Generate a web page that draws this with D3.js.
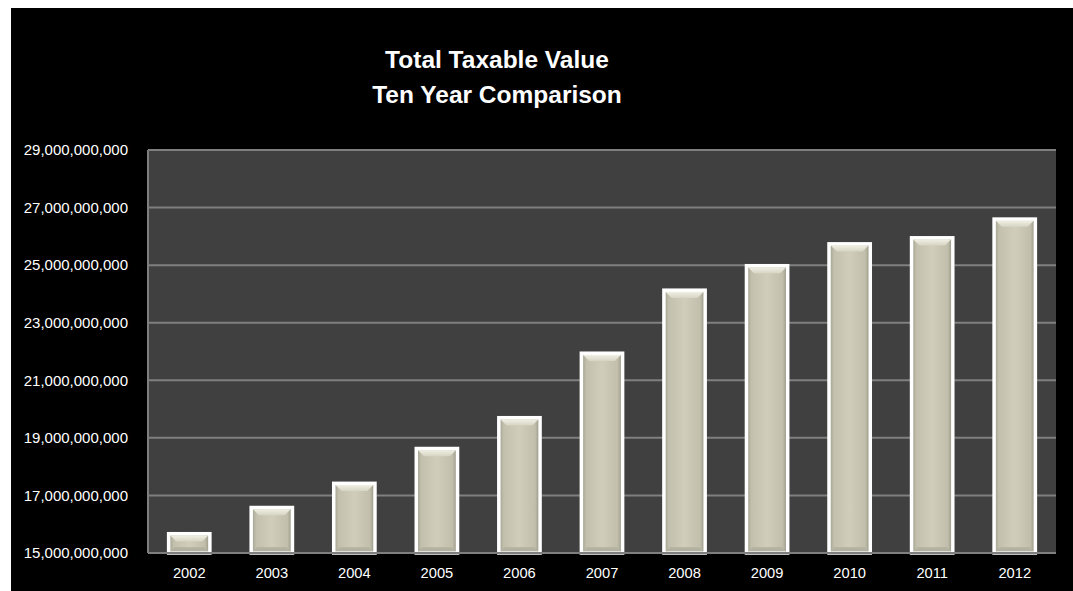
<!DOCTYPE html>
<html>
<head>
<meta charset="utf-8">
<script src="https://cdnjs.cloudflare.com/ajax/libs/d3/7.8.5/d3.min.js"></script>
<style>
  html, body { margin: 0; padding: 0; background: #fff; }
  svg { display: block; }
  text { font-family: "Liberation Sans", Arial, sans-serif; fill: #fff; }
</style>
</head>
<body>
<svg id="chart" width="1073" height="591"></svg>
<script>
"use strict";

// Data ///////////////////////////////////////////////////
var years = ["2002", "2003", "2004", "2005", "2006", "2007",
             "2008", "2009", "2010", "2011", "2012"];
var taxableValue = [15.67e9, 16.58e9, 17.42e9, 18.63e9, 19.70e9, 21.94e9,
                    24.13e9, 24.98e9, 25.74e9, 25.95e9, 26.60e9];
var yTicks = [15e9, 17e9, 19e9, 21e9, 23e9, 25e9, 27e9, 29e9];
var titleLines = ["Total Taxable Value", "Ten Year Comparison"];

var app = {

  // Frame and title ///////////////////////////////////////
  frame: function(svg) {
  //////////////////////////////////////////////////////////
    svg.append("rect")
        .attr("x", 11).attr("y", 8)
        .attr("width", 1062).attr("height", 583)
        .attr("fill", "#000");

    svg.selectAll("text.title")
        .data(titleLines)
        .enter().append("text")
        .attr("class", "title")
        .attr("x", 497)
        .attr("y", function(d, i) { return 68 + i * 35; })
        .attr("text-anchor", "middle")
        .attr("font-weight", "bold")
        .attr("font-size", "24.5px")
        .text(function(d) { return d; });
  },

  // Bar chart /////////////////////////////////////////////
  bars: function(svg) {
  //////////////////////////////////////////////////////////
    var left = 148, right = 1056, top = 150, bottom = 553;

    var x = d3.scaleBand()
        .domain(years)
        .range([left, right])
        .paddingInner(0.5)
        .paddingOuter(0.25);

    var y = d3.scaleLinear()
        .domain([15e9, 29e9])
        .range([bottom, top]);

    // gradients
    var defs = svg.append("defs");
    var side = defs.append("linearGradient")
        .attr("id", "barSide")
        .attr("x1", 0).attr("x2", 1).attr("y1", 0).attr("y2", 0);
    side.append("stop").attr("offset", "0%").attr("stop-color", "#9b998a");
    side.append("stop").attr("offset", "12%").attr("stop-color", "#c3c1ad");
    side.append("stop").attr("offset", "50%").attr("stop-color", "#d0cebb");
    side.append("stop").attr("offset", "88%").attr("stop-color", "#c1bfab");
    side.append("stop").attr("offset", "100%").attr("stop-color", "#8f8d7f");

    var topG = defs.append("linearGradient")
        .attr("id", "barTop")
        .attr("x1", 0).attr("x2", 0).attr("y1", 0).attr("y2", 1);
    topG.append("stop").attr("offset", "0%").attr("stop-color", "#f0efe4");
    topG.append("stop").attr("offset", "100%").attr("stop-color", "#d6d4c2");

    // plot area
    svg.append("rect")
        .attr("x", left).attr("y", top)
        .attr("width", right - left).attr("height", bottom - top)
        .attr("fill", "#404040");

    svg.append("line")
        .attr("x1", left).attr("x2", left)
        .attr("y1", top).attr("y2", bottom)
        .attr("stroke", "#7f7f7f").attr("stroke-width", 2);

    // gridlines
    svg.selectAll("line.grid")
        .data(yTicks)
        .enter().append("line")
        .attr("class", "grid")
        .attr("x1", left).attr("x2", right)
        .attr("y1", function(d) { return y(d); })
        .attr("y2", function(d) { return y(d); })
        .attr("stroke", "#7f7f7f")
        .attr("stroke-width", 2);

    // y axis labels
    var yAxis = d3.axisLeft(y)
        .tickValues(yTicks)
        .tickSize(0)
        .tickPadding(20)
        .tickFormat(d3.format(","));

    var gy = svg.append("g")
        .attr("transform", "translate(" + left + ",0)")
        .call(yAxis);
    gy.select(".domain").remove();
    gy.selectAll("text")
        .attr("font-family", "Liberation Sans, Arial, sans-serif")
        .attr("font-size", "15px")
        .attr("fill", "#fff");

    // x axis labels
    var xAxis = d3.axisBottom(x).tickSize(0).tickPadding(15);
    var gx = svg.append("g")
        .attr("transform", "translate(0," + bottom + ")")
        .call(xAxis);
    gx.select(".domain").remove();
    gx.selectAll("text")
        .attr("font-family", "Liberation Sans, Arial, sans-serif")
        .attr("font-size", "14.7px")
        .attr("fill", "#fff");

    var data = years.map(function(d, i) { return { year: d, value: taxableValue[i] }; });
    var bw = x.bandwidth();

    var g = svg.selectAll("g.bar")
        .data(data)
        .enter().append("g")
        .attr("class", "bar");

    // soft shadow on right
    g.append("rect")
        .attr("x", function(d) { return x(d.year) + 1.5; })
        .attr("y", function(d) { return y(d.value) - 1; })
        .attr("width", bw)
        .attr("height", function(d) { return bottom - y(d.value) + 1; })
        .attr("fill", "#000")
        .attr("opacity", 0.7);

    // white outline + body
    g.append("rect")
        .attr("x", function(d) { return x(d.year); })
        .attr("y", function(d) { return y(d.value); })
        .attr("width", bw)
        .attr("height", function(d) { return bottom - y(d.value); })
        .attr("fill", "url(#barSide)")
        .attr("stroke", "#fff")
        .attr("stroke-width", 3.5);

    // top bevel
    g.append("polygon")
        .attr("points", function(d) {
          var x0 = x(d.year) + 1.75, x1 = x(d.year) + bw - 1.75;
          var y0 = y(d.value) + 1.75, h = 6;
          return [[x0, y0], [x1, y0], [x1 - h, y0 + h], [x0 + h, y0 + h]]
              .map(function(p) { return p.join(","); }).join(" ");
        })
        .attr("fill", "url(#barTop)");

    // bottom bevel
    g.append("polygon")
        .attr("points", function(d) {
          var x0 = x(d.year) + 1.75, x1 = x(d.year) + bw - 1.75;
          var y0 = bottom - 1.75, h = 4;
          return [[x0, y0], [x1, y0], [x1 - h, y0 - h], [x0 + h, y0 - h]]
              .map(function(p) { return p.join(","); }).join(" ");
        })
        .attr("fill", "#b3b1a0");

    // redraw axis line over bar bottoms
    svg.append("line")
        .attr("x1", left).attr("x2", right)
        .attr("y1", bottom).attr("y2", bottom)
        .attr("stroke", "#7f7f7f").attr("stroke-width", 2);
  },

  //////////////////////////////////////////////////////////
  run: function() {
  //////////////////////////////////////////////////////////
    var svg = d3.select("#chart");
    app.frame(svg);
    app.bars(svg);
  }
};

app.run();
</script>
</body>
</html>
